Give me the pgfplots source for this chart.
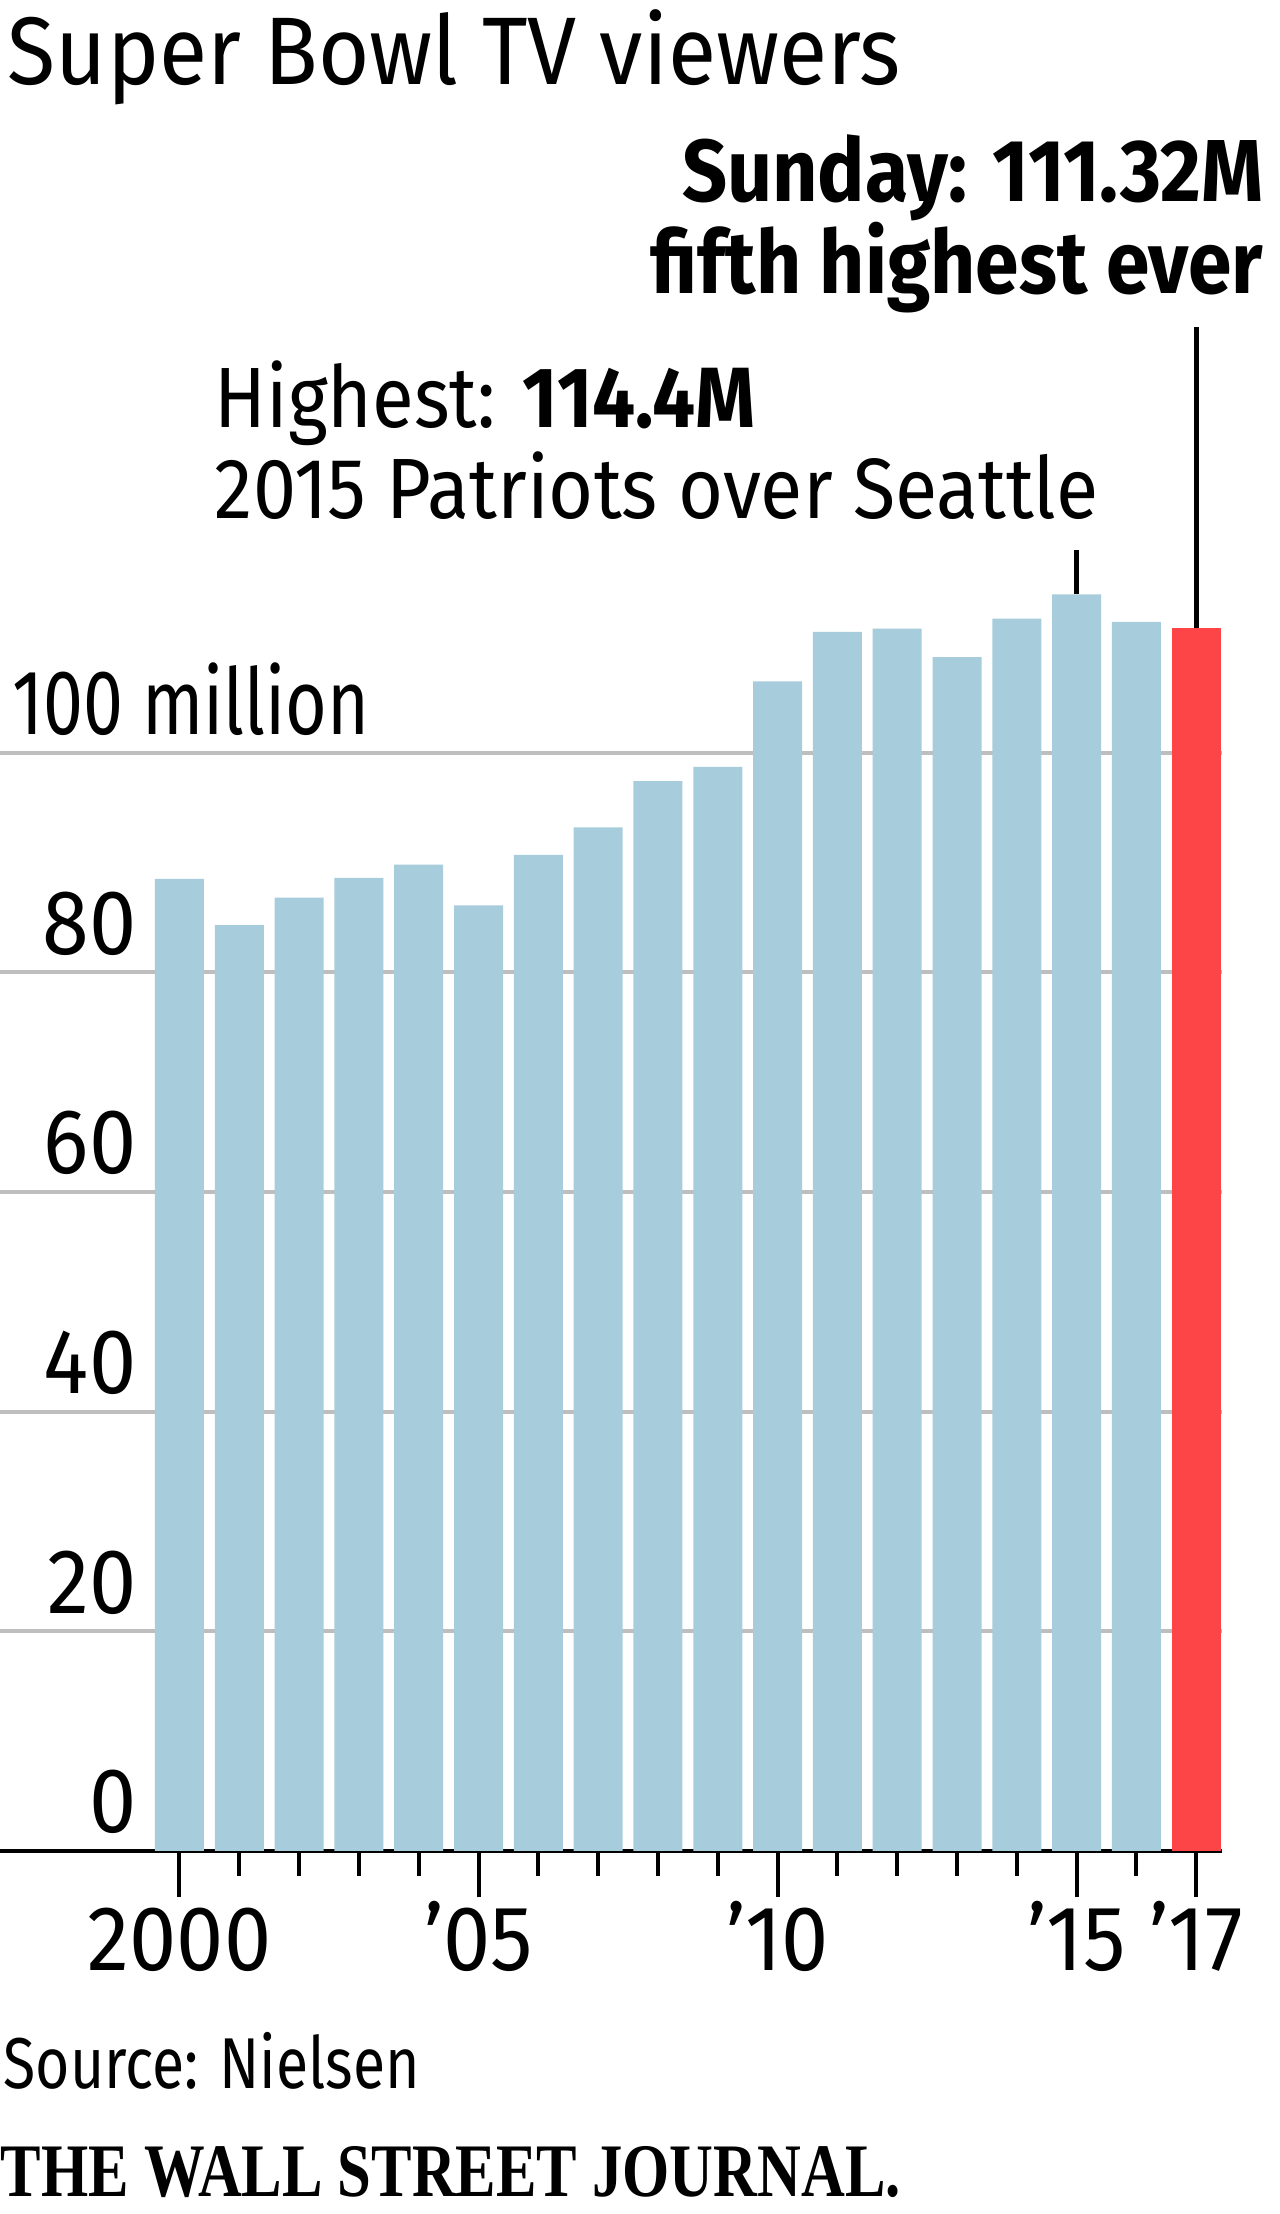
\documentclass[border=0pt]{standalone}
\usepackage{pgfplots}
\pgfplotsset{compat=1.18}
\usepackage{fontspec}
\setmainfont{Fira Sans}
\newfontfamily\tickfont{Fira Sans}[FakeStretch=0.92]
\newfontfamily\wsjfont{Liberation Serif}
\usepackage{graphicx}
\definecolor{barblue}{HTML}{A7CDDD}
\definecolor{barred}{HTML}{FD4447}
\definecolor{gridgray}{HTML}{BEBEBE}
\newcommand{\fitw}[2]{\resizebox{#1}{\height}{#2}}
\begin{document}
\begin{tikzpicture}
\path[fill=white,use as bounding box] (0,0) rectangle (320pt,553.5pt);
\fontsize{21.4}{25}\selectfont
\begin{axis}[
  at={(0pt,90.75pt)}, anchor=south west,
  scale only axis, width=305.5pt, height=329.5pt,
  xmin=1997.0, xmax=2017.43, ymin=0, ymax=120,
  clip=false,
  axis x line*=bottom, axis y line*=left,
  y axis line style={draw=none},
  x axis line style={black, line width=1.1pt},
  ytick={0,20,40,60,80,100},
  yticklabels={0,20,40,60,80,{\makebox[0pt][l]{\hspace*{-30.5pt}\fitw{89.3pt}{100 million}}}},
  ytick style={draw=none},
  ymajorgrids, grid style={gridgray, line width=1pt},
  yticklabel style={anchor=base east, inner sep=0pt, xshift=45.85pt, yshift=4.5pt, font=\tickfont\fontsize{23}{26}\selectfont},
  xtick={2000,2005,2010,2015,2017},
  xticklabels={2000,’05,’10,’15,’17},
  minor xtick={2001,2002,2003,2004,2006,2007,2008,2009,2011,2012,2013,2014,2016},
  tick align=outside,
  major tick length=11.6pt, minor tick length=6.2pt,
  xtick style={black, line width=1pt},
  xticklabel style={anchor=base, inner sep=0pt, yshift=-18.35pt, font=\tickfont\fontsize{23}{26}\selectfont},
]
\addplot[ybar, bar width=12.25pt, bar shift=0pt, fill=barblue, draw=none] coordinates {
(2000,88.5) (2001,84.3) (2002,86.8) (2003,88.6) (2004,89.8) (2005,86.1)
(2006,90.7) (2007,93.2) (2008,97.4) (2009,98.7) (2010,106.5) (2011,111.0)
(2012,111.3) (2013,108.7) (2014,112.2) (2015,114.4) (2016,111.9)
};
\addplot[ybar, bar width=12.25pt, bar shift=0pt, fill=barred, draw=none] coordinates {(2017,111.32)};
\draw[black, line width=1.25pt] (axis cs:2017,111.32) -- (axis cs:2017,138.76);
\draw[black, line width=1.25pt] (axis cs:2015,114.4) -- (axis cs:2015,118.46);
\end{axis}
\node[anchor=base west, inner sep=0pt] at (1.75pt,532.25pt) {\fontsize{24}{28}\selectfont\fitw{223.3pt}{Super Bowl TV viewers}};
\node[anchor=base east, inner sep=0pt] at (316pt,503pt) {\fontsize{22}{26}\selectfont\fitw{145.3pt}{\bfseries Sunday: 111.32M}};
\node[anchor=base east, inner sep=0pt] at (316pt,480.1pt) {\fontsize{22}{26}\selectfont\fitw{153.1pt}{\bfseries fifth highest ever}};
\node[anchor=base west, inner sep=0pt] at (53.5pt,446.5pt) {\fitw{135.1pt}{Highest: \textbf{114.4M}}};
\node[anchor=base west, inner sep=0pt] at (53.5pt,423.75pt) {\fitw{220.8pt}{2015 Patriots over Seattle}};
\node[anchor=base west, inner sep=0pt] at (0.75pt,31.25pt) {\fontsize{18}{21}\selectfont\fitw{104pt}{Source: Nielsen}};
\node[anchor=base west, inner sep=0pt] at (0pt,4.25pt) {\resizebox{225pt}{\height}{\wsjfont\bfseries\fontsize{18.9}{20}\selectfont THE WALL STREET JOURNAL.}};
\end{tikzpicture}
\end{document}
